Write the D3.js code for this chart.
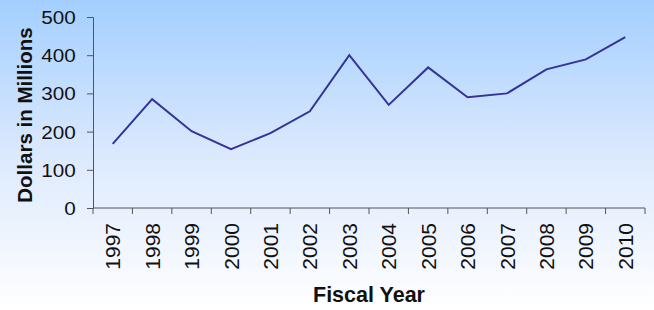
<!DOCTYPE html>
<html>
<head>
<meta charset="utf-8">
<script src="https://cdn.jsdelivr.net/npm/d3@7"></script>
<style>
  body { margin: 0; }
  svg { display: block; font-family: "Liberation Sans", Arial, sans-serif; }
</style>
</head>
<body>
<div id="chart"></div>
<script>
const years = ["1997","1998","1999","2000","2001","2002","2003","2004","2005","2006","2007","2008","2009","2010"];
const dollars = [168, 285, 201, 154, 196, 253, 400, 270, 368, 290, 300, 363, 389, 447];
const yTicks = [0, 100, 200, 300, 400, 500];

const width = 654, height = 310;
const margin = {top: 17, right: 9, bottom: 102, left: 93};
const innerWidth = width - margin.left - margin.right;
const innerHeight = height - margin.top - margin.bottom;

const svg = d3.select("#chart").append("svg")
  .attr("width", width)
  .attr("height", height);

// background gradient
const grad = svg.append("defs").append("linearGradient")
  .attr("id", "bg").attr("x1", 0).attr("y1", 0).attr("x2", 0).attr("y2", 1);
grad.append("stop").attr("offset", "0%").attr("stop-color", "#a3cfff");
grad.append("stop").attr("offset", "50%").attr("stop-color", "#dce9fd");
grad.append("stop").attr("offset", "100%").attr("stop-color", "#ffffff");
svg.append("rect").attr("width", width).attr("height", height).attr("fill", "url(#bg)");

const g = svg.append("g").attr("transform", `translate(${margin.left},${margin.top})`);

const x = d3.scaleBand().domain(years).range([0, innerWidth]);
const y = d3.scaleLinear().domain([0, 500]).range([innerHeight, 0]);

// y axis
const gY = g.append("g")
  .call(d3.axisLeft(y).tickValues(yTicks).tickSizeOuter(0).tickSize(6));
gY.select(".domain").attr("stroke", "#555");
gY.selectAll(".tick line").attr("stroke", "#555");
gY.selectAll(".tick text")
  .attr("font-size", 18).attr("fill", "#111")
  .attr("font-family", "Liberation Sans, Arial, sans-serif")
  .attr("x", -15).attr("dy", "0.36em")
  .attr("transform", "scale(1.15,1)");

// x axis with ticks on band boundaries
const gX = g.append("g").attr("transform", `translate(0,${innerHeight})`);
gX.append("line").attr("x1", 0).attr("x2", innerWidth).attr("stroke", "#555");
const bounds = years.map(d => x(d)).concat([x(years[years.length - 1]) + x.bandwidth()]);
gX.selectAll(".bt").data(bounds).enter().append("line")
  .attr("x1", d => d).attr("x2", d => d)
  .attr("y1", 0).attr("y2", 6).attr("stroke", "#555");
gX.selectAll(".yl").data(years).enter().append("text")
  .attr("transform", d => `translate(${x(d) + x.bandwidth() / 2 + 7.5},15) rotate(-90)`)
  .attr("text-anchor", "end")
  .attr("font-size", 21)
  .attr("fill", "#111")
  .text(d => d);

// line
const line = d3.line()
  .x((d, i) => x(years[i]) + x.bandwidth() / 2)
  .y(d => y(d));
g.append("path").datum(dollars)
  .attr("d", line)
  .attr("fill", "none")
  .attr("stroke", "#333399")
  .attr("stroke-width", 2);

// axis titles
svg.append("text")
  .attr("transform", `translate(32,115) rotate(-90)`)
  .attr("text-anchor", "middle")
  .attr("font-size", 20.5).attr("font-weight", "bold").attr("fill", "#111")
  .text("Dollars in Millions");

svg.append("text")
  .attr("x", 369).attr("y", 302)
  .attr("text-anchor", "middle")
  .attr("font-size", 21.5).attr("font-weight", "bold").attr("fill", "#111")
  .text("Fiscal Year");
</script>
</body>
</html>
